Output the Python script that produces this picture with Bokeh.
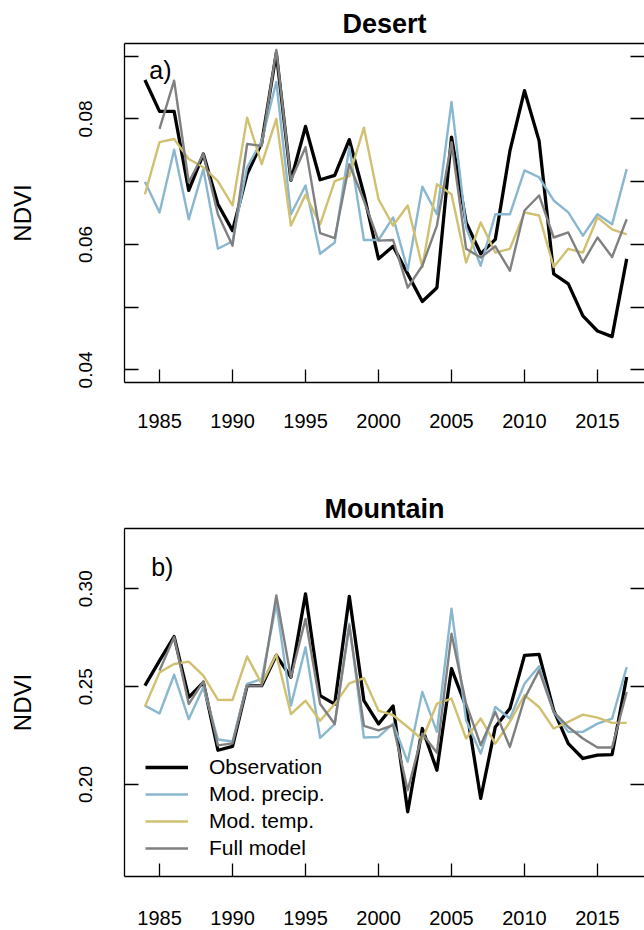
import math
from bokeh.plotting import figure
from bokeh.models import Range1d, LinearAxis, FixedTicker, Legend, LegendItem, Label, NumeralTickFormatter
from bokeh.layouts import column
from bokeh.embed import file_html
from bokeh.resources import INLINE

NaN = float("nan")
years = list(range(1984, 2018))
year_ticks = [1985, 1990, 1995, 2000, 2005, 2010, 2015]

series_names = ["Observation", "Mod. precip.", "Mod. temp.", "Full model"]

desert_obs = [0.0862, 0.0812, 0.0812, 0.0686, 0.0744, 0.0664, 0.0622, 0.0712, 0.0762, 0.0905,
              0.0702, 0.0788, 0.0703, 0.0710, 0.0767, 0.0680, 0.0577, 0.0597, 0.0553, 0.0509,
              0.0531, 0.0771, 0.0635, 0.0585, 0.0608, 0.0749, 0.0845, 0.0765, 0.0553, 0.0537,
              0.0486, 0.0462, 0.0453, 0.0577]
desert_prec = [0.0700, 0.0651, 0.0751, 0.0640, 0.0720, 0.0593, 0.0605, 0.0723, 0.0765, 0.0859,
               0.0648, 0.0694, 0.0585, 0.0603, 0.0755, 0.0607, 0.0607, 0.0643, 0.0559, 0.0692,
               0.0648, 0.0827, 0.0627, 0.0566, 0.0648, 0.0648, 0.0718, 0.0707, 0.0670, 0.0651,
               0.0614, 0.0648, 0.0632, 0.0720]
desert_temp = [0.0680, 0.0763, 0.0768, 0.0736, 0.0723, 0.0701, 0.0662, 0.0802, 0.0728, 0.0800,
               0.0630, 0.0679, 0.0632, 0.0701, 0.0709, 0.0786, 0.0672, 0.0630, 0.0662, 0.0564,
               0.0696, 0.0680, 0.0571, 0.0635, 0.0587, 0.0593, 0.0651, 0.0646, 0.0564, 0.0593,
               0.0587, 0.0643, 0.0624, 0.0616]
desert_full = [NaN, 0.0784, 0.0861, 0.0699, 0.0744, 0.0648, 0.0598, 0.0760, 0.0757, 0.0910,
               0.0702, 0.0755, 0.0618, 0.0610, 0.0728, 0.0670, 0.0606, 0.0607, 0.0531, 0.0566,
               0.0630, 0.0763, 0.0593, 0.0579, 0.0597, 0.0558, 0.0654, 0.0678, 0.0611, 0.0619,
               0.0571, 0.0611, 0.0580, 0.0640]

mount_obs = [0.2505, 0.2633, 0.2756, 0.2445, 0.2522, 0.2175, 0.2195, 0.2505, 0.2505, 0.2660,
             0.2548, 0.2974, 0.2454, 0.2411, 0.2961, 0.2428, 0.2310, 0.2401, 0.1861, 0.2286,
             0.2073, 0.2592, 0.2396, 0.1929, 0.2294, 0.2388, 0.2660, 0.2665, 0.2379, 0.2209,
             0.2133, 0.2150, 0.2153, 0.2549]
mount_prec = [0.2403, 0.2363, 0.2561, 0.2334, 0.2497, 0.2230, 0.2220, 0.2514, 0.2539, 0.2923,
              0.2403, 0.2701, 0.2238, 0.2309, 0.2821, 0.2240, 0.2243, 0.2311, 0.2116, 0.2473,
              0.2269, 0.2898, 0.2328, 0.2158, 0.2396, 0.2337, 0.2515, 0.2604, 0.2371, 0.2269,
              0.2269, 0.2311, 0.2337, 0.2600]
mount_temp = [0.2399, 0.2573, 0.2616, 0.2628, 0.2556, 0.2433, 0.2432, 0.2654, 0.2514, 0.2664,
              0.2360, 0.2428, 0.2326, 0.2411, 0.2517, 0.2543, 0.2377, 0.2354, 0.2294, 0.2230,
              0.2413, 0.2439, 0.2235, 0.2337, 0.2209, 0.2320, 0.2456, 0.2396, 0.2286, 0.2320,
              0.2357, 0.2342, 0.2315, 0.2315]
mount_full = [NaN, 0.2582, 0.2753, 0.2411, 0.2527, 0.2200, 0.2210, 0.2505, 0.2505, 0.2966,
              0.2548, 0.2846, 0.2411, 0.2309, 0.2812, 0.2300, 0.2277, 0.2303, 0.1971, 0.2260,
              0.2162, 0.2770, 0.2413, 0.2201, 0.2371, 0.2192, 0.2439, 0.2583, 0.2371, 0.2294,
              0.2235, 0.2189, 0.2189, 0.2473]

desert_major = [0.04, 0.06, 0.08]
desert_minor = [0.05, 0.07, 0.09]
mount_major = [0.20, 0.25, 0.30]

COLORS = ["#000000", "#8ab7d0", "#d0c070", "#808080"]
WIDTHS = [3.3, 2.4, 2.4, 2.4]
FONT = "Liberation Sans"


def make_panel(title, yrange, major, minor, data, tag, tag_xy, height, mb_bottom, xstandoff):
    p = figure(width=644, height=height, output_backend="svg", toolbar_location=None,
               x_range=Range1d(1982.60, 2018.22), y_range=Range1d(*yrange),
               x_axis_location=None, y_axis_location=None,
               min_border_left=124, min_border_right=0, min_border_top=43,
               min_border_bottom=mb_bottom, title=title)
    p.outline_line_color = None
    p.background_fill_color = "white"
    p.border_fill_color = "white"
    p.grid.visible = False
    p.title.align = "center"
    p.title.text_font = FONT
    p.title.text_font_size = "27px"
    p.title.text_font_style = "bold"
    p.title.text_color = "black"
    p.title.standoff = 10

    yticker = FixedTicker(ticks=major, minor_ticks=minor)
    xticker = FixedTicker(ticks=year_ticks)

    bottom = LinearAxis(ticker=xticker, major_tick_in=13, major_tick_out=0,
                        minor_tick_in=0, minor_tick_out=0,
                        major_label_standoff=xstandoff,
                        major_label_text_font=FONT, major_label_text_font_size="20px",
                        major_label_text_color="black",
                        axis_line_color="black", axis_line_width=1.3,
                        major_tick_line_color="black", major_tick_line_width=1.3)
    left = LinearAxis(ticker=yticker, formatter=NumeralTickFormatter(format="0.00"),
                      major_tick_in=14, major_tick_out=0,
                      minor_tick_in=14, minor_tick_out=0,
                      major_label_orientation="vertical",
                      major_label_standoff=32,
                      major_label_text_font=FONT, major_label_text_font_size="19px",
                      major_label_text_color="black",
                      axis_label="NDVI", axis_label_standoff=41,
                      axis_label_text_font=FONT, axis_label_text_font_size="24px",
                      axis_label_text_font_style="normal", axis_label_text_color="black",
                      axis_line_color="black", axis_line_width=1.3,
                      major_tick_line_color="black", major_tick_line_width=1.3,
                      minor_tick_line_color="black", minor_tick_line_width=1.3)
    right = LinearAxis(ticker=yticker, major_tick_in=14, major_tick_out=0,
                       minor_tick_in=14, minor_tick_out=0,
                       major_label_standoff=0,
                       major_label_overrides={t: "" for t in major},
                       axis_line_color=None,
                       major_tick_line_color="black", major_tick_line_width=1.3,
                       minor_tick_line_color="black", minor_tick_line_width=1.3)
    top = LinearAxis(ticker=FixedTicker(ticks=[]), major_tick_in=0, major_tick_out=0,
                     minor_tick_in=0, minor_tick_out=0,
                     major_label_standoff=0,
                     axis_line_color="black", axis_line_width=1.3)
    p.add_layout(bottom, "below")
    p.add_layout(left, "left")
    p.add_layout(right, "right")
    p.add_layout(top, "above")

    renderers = []
    for vals, c, w in zip(data, COLORS, WIDTHS):
        r = p.line(x=years, y=vals, line_color=c, line_width=w, line_join="round")
        renderers.append(r)

    p.add_layout(Label(x=tag_xy[0], y=tag_xy[1], text=tag, text_baseline="middle",
                       text_font=FONT, text_font_size="25px", text_color="black"))
    return p, renderers


p1, _ = make_panel("Desert", (0.03799, 0.09202), desert_major, desert_minor,
                   [desert_obs, desert_prec, desert_temp, desert_full],
                   "a)", (1984.3, 0.0878), 485, 103, 31)
p2, rs = make_panel("Mountain", (0.1530, 0.3308), mount_major, [],
                    [mount_obs, mount_prec, mount_temp, mount_full],
                    "b)", (1984.43, 0.3112), 445, 54, 34)

legend = Legend(items=[LegendItem(label=n, renderers=[r]) for n, r in zip(series_names, rs)],
                location=(21, 16), border_line_color=None, background_fill_alpha=0,
                padding=0, margin=0, spacing=3, glyph_width=43, glyph_height=20,
                label_height=20, label_standoff=21,
                label_text_font=FONT, label_text_font_size="21px", label_text_color="black")
p2.add_layout(legend)

layout = column(p1, p2, spacing=0)
open("out.html", "w").write(file_html(layout, INLINE))
